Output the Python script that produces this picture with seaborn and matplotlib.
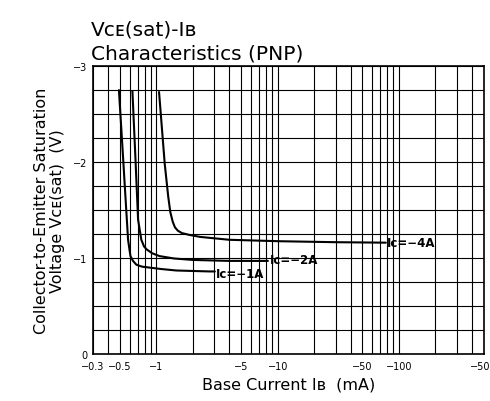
import matplotlib
matplotlib.use("Agg")
import matplotlib.pyplot as plt
import matplotlib.ticker as mticker
import seaborn as sns
import pandas as pd
import numpy as np

# base current |IB| in mA and saturation voltage |VCE(sat)| in V
ib_1a = [0.49, 0.53, 0.56, 0.583, 0.60, 0.61, 0.64, 0.683, 0.76, 0.88, 1.1, 1.46, 2.0, 2.76, 3.03]
vce_1a = [2.75, 2.05, 1.55, 1.19, 1.08, 1.02, 0.97, 0.93, 0.91, 0.90, 0.885, 0.87, 0.865, 0.86, 0.86]

ib_2a = [0.633, 0.67, 0.705, 0.75, 0.79, 0.83, 0.92, 1.06, 1.4, 2.0, 4.0, 8.3]
vce_2a = [2.74, 2.05, 1.40, 1.19, 1.12, 1.09, 1.05, 1.02, 0.995, 0.98, 0.97, 0.97]

ib_4a = [1.05, 1.17, 1.25, 1.30, 1.36, 1.42, 1.50, 1.62, 1.88, 2.3, 2.76, 4.0, 10.4, 30.0, 78.0]
vce_4a = [2.73, 1.98, 1.64, 1.48, 1.38, 1.32, 1.285, 1.26, 1.24, 1.22, 1.21, 1.19, 1.175, 1.165, 1.16]

curve_names = ["Iᴄ=−1A", "Iᴄ=−2A", "Iᴄ=−4A"]

x_ticks = [0.3, 0.5, 1, 5, 10, 50, 100, 500]
x_tick_labels = ["−0.3", "−0.5", "−1", "−5", "−10", "−50", "−100", "−500"]
y_ticks = [0, -1, -2, -3]
y_tick_labels = ["0", "−1", "−2", "−3"]

frames = []
for name, ib, vce in zip(curve_names, [ib_1a, ib_2a, ib_4a], [vce_1a, vce_2a, vce_4a]):
    frames.append(pd.DataFrame({"ib": ib, "vce": [-v for v in vce], "curve": name}))
df = pd.concat(frames, ignore_index=True)

sns.set_style("white")
plt.rcParams['font.family'] = ['DejaVu Sans']
plt.rcParams['text.color'] = 'black'
plt.rcParams['axes.labelcolor'] = 'black'
plt.rcParams['xtick.color'] = 'black'
plt.rcParams['ytick.color'] = 'black'

fig = plt.figure(figsize=(4.9, 4.02), dpi=100)
ax = fig.add_axes([0.19, 0.117, 0.797, 0.716])

sns.lineplot(data=df, x="ib", y="vce", hue="curve", palette=["black"] * 3,
             sort=False, estimator=None, linewidth=1.5, legend=False, ax=ax)

ax.set_xscale("log")
ax.set_xlim(0.3, 500)
ax.set_ylim(0, -3)

ax.xaxis.set_major_locator(mticker.FixedLocator(x_ticks))
ax.xaxis.set_major_formatter(mticker.FixedFormatter(x_tick_labels))
ax.xaxis.set_minor_locator(mticker.LogLocator(base=10, subs=np.arange(1, 10)))
ax.xaxis.set_minor_formatter(mticker.NullFormatter())
ax.set_yticks(y_ticks)
ax.set_yticklabels(y_tick_labels)
ax.yaxis.set_minor_locator(mticker.MultipleLocator(0.25))

ax.grid(True, which="both", axis="both", color="black", linewidth=0.8)
ax.tick_params(axis="x", which="both", length=0, labelsize=7, pad=5)
ax.tick_params(axis="y", which="both", length=0, labelsize=7, pad=4)
for s in ax.spines.values():
    s.set_color("black")
    s.set_linewidth(1.2)

# curve labels at the ends of the curves
ax.text(3.1, -0.84, curve_names[0], fontsize=8.5, fontweight="bold", va="center", ha="left")
ax.text(8.6, -0.98, curve_names[1], fontsize=8.5, fontweight="bold", va="center", ha="left")
ax.text(80, -1.16, curve_names[2], fontsize=8.5, fontweight="bold", va="center", ha="left")

ax.set_xlabel("Base Current Iʙ  (mA)", fontsize=11.5, labelpad=4)
ax.set_ylabel("Collector-to-Emitter Saturation\nVoltage Vᴄᴇ(sat)  (V)", fontsize=11.5,
              labelpad=6, linespacing=1.1)

fig.text(0.185, 0.925, "Vᴄᴇ(sat)-Iʙ", fontsize=14.5, ha="left", va="center")
fig.text(0.185, 0.865, "Characteristics (PNP)", fontsize=14.5, ha="left", va="center")

fig.savefig("out.png", dpi=100, facecolor="white")
